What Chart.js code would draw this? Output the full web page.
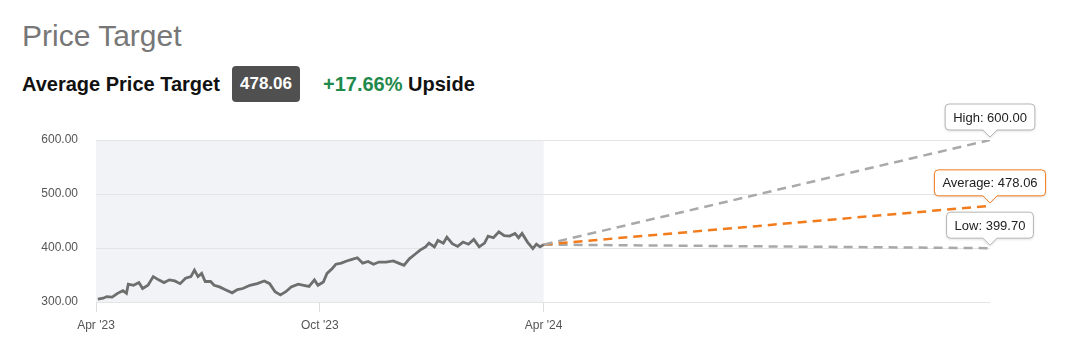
<!DOCTYPE html>
<html>
<head>
<meta charset="utf-8">
<script src="https://cdn.jsdelivr.net/npm/chart.js@4"></script>
<style>
  body { margin: 0; background: #fff; font-family: Arial, "Liberation Sans", sans-serif; }
  #wrap { position: relative; width: 1071px; height: 338px; overflow: hidden; }
  .title { position: absolute; left: 22px; top: 21px; font-size: 30px; line-height: 30px; color: #777; }
  .sub { position: absolute; left: 22px; top: 74px; font-size: 20px; line-height: 20px; font-weight: bold; color: #111; }
  .badge { position: absolute; left: 232px; top: 66px; width: 68px; height: 36px; background: #505050; border-radius: 4px;
           color: #fff; font-weight: bold; font-size: 17px; display: flex; align-items: center; justify-content: center; }
  .upside { position: absolute; left: 323px; top: 74px; font-size: 20px; line-height: 20px; font-weight: bold; color: #111; }
  .upside span { color: #1f8a4c; }
  #chart { position: absolute; left: 0; top: 95px; }
</style>
</head>
<body>
<div id="wrap">
  <div class="title">Price Target</div>
  <div class="sub">Average Price Target</div>
  <div class="badge">478.06</div>
  <div class="upside"><span>+17.66%</span> Upside</div>
  <canvas id="chart" width="1071" height="243"></canvas>
</div>
<script>
// days counted from 1 Apr 2023
let priceDays = [1.5, 5.9, 8.8, 13.2, 17.6, 22, 24.9, 26.4, 30.7, 35.1, 38.1, 42.5, 46.8, 51.2, 55.6, 60, 64.4, 68.8, 73.2, 77.6,
    80.5, 83.4, 86.4, 89.3, 93.7, 96.6, 101, 105.4, 111.3, 115.7, 120, 125.9, 131.8, 137.6, 142, 146.4, 150.8, 155.2, 159.6, 165.4,
    169.8, 174.2, 178.6, 181.5, 185.9, 188.9, 193.2, 196.2, 200.6, 205, 209.4, 213.7, 218.1, 222.5, 226.9, 231.3, 237.2, 243, 247.4, 251.8,
    256.2, 260.6, 265, 269.4, 272.3, 276.7, 279.6, 284, 286.9, 291.3, 295.7, 300.1, 304.5, 308.9, 313.3, 317.7, 320.6, 325, 329.4, 333.8,
    338.2, 342.6, 345.5, 348.4, 352.8, 357.2, 360.1, 363.1, 366]
let priceValues = [305.5, 307, 310, 309, 316, 321, 316, 333, 331, 336, 325, 331, 347, 341, 336, 341, 339, 334, 344, 347,
    359, 347, 353, 338, 338, 331, 328, 323, 317, 323, 325, 331, 334, 339, 334, 319, 313, 319, 328, 333,
    331, 329, 341, 331, 337, 353, 362, 370, 372, 376, 379, 382, 372, 375, 370, 374, 374, 376, 372, 368,
    380, 388, 396, 402, 409, 402, 414, 409, 420, 408, 403, 411, 407, 416, 402, 409, 422, 419, 430, 423,
    422, 427, 419, 427, 411, 399, 407, 402, 406.31]

let lastPrice = 406.31
let targetNames = ['High', 'Average', 'Low']
let targetValues = [600.00, 478.06, 399.70]
let targetColors = ['#a9a9a9', '#f27b1c', '#a9a9a9']
let targetDay = 731

let tickDays = [0, 183, 366]
let tickLabels = ["Apr '23", "Oct '23", "Apr '24"]

let datasets = [{
    data: priceDays.map((d, i) => ({x: d, y: priceValues[i]})),
    borderColor: '#6e6e6e',
    borderWidth: 2.8,
    pointRadius: 0,
    tension: 0
}]
for (let i = 0; i < targetValues.length; i++)
{
    datasets.push({
        data: [{x: 366, y: lastPrice}, {x: targetDay, y: targetValues[i]}],
        borderColor: targetColors[i],
        borderWidth: 2.5,
        borderDash: [9, 6],
        pointRadius: 0
    })
}

const shade = {
    id: 'shade',
    beforeDraw(chart) {
        const {ctx, chartArea, scales} = chart
        const x0 = scales.x.getPixelForValue(0)
        const x1 = scales.x.getPixelForValue(366)
        ctx.save()
        ctx.fillStyle = '#f2f3f7'
        ctx.fillRect(x0, chartArea.top, x1 - x0, chartArea.bottom - chartArea.top)
        ctx.restore()
    }
}

const callouts = {
    id: 'callouts',
    afterDatasetsDraw(chart) {
        const {ctx, scales} = chart
        ctx.save()
        ctx.font = '13px Arial, "Liberation Sans", sans-serif'
        for (let i = 0; i < targetValues.length; i++) {
            const px = scales.x.getPixelForValue(targetDay)
            const py = scales.y.getPixelForValue(targetValues[i])
            const text = targetNames[i] + ': ' + targetValues[i].toFixed(2)
            const w = ctx.measureText(text).width + 16
            const h = 26
            const bottom = py - 10
            const left = px - w / 2
            const top = bottom - h
            ctx.beginPath()
            ctx.moveTo(left + 4, top)
            ctx.lineTo(left + w - 4, top)
            ctx.quadraticCurveTo(left + w, top, left + w, top + 4)
            ctx.lineTo(left + w, bottom - 4)
            ctx.quadraticCurveTo(left + w, bottom, left + w - 4, bottom)
            ctx.lineTo(px + 7, bottom)
            ctx.lineTo(px, bottom + 7)
            ctx.lineTo(px - 7, bottom)
            ctx.lineTo(left + 4, bottom)
            ctx.quadraticCurveTo(left, bottom, left, bottom - 4)
            ctx.lineTo(left, top + 4)
            ctx.quadraticCurveTo(left, top, left + 4, top)
            ctx.closePath()
            ctx.shadowColor = 'rgba(0,0,0,0.15)'
            ctx.shadowBlur = 3
            ctx.shadowOffsetY = 1
            ctx.fillStyle = '#fff'
            ctx.fill()
            ctx.shadowColor = 'transparent'
            ctx.strokeStyle = i === 1 ? '#f27b1c' : '#b5b5b5'
            ctx.lineWidth = 1
            ctx.stroke()
            ctx.fillStyle = '#222'
            ctx.textAlign = 'center'
            ctx.textBaseline = 'middle'
            ctx.fillText(text, px, top + h / 2 + 1)
        }
        ctx.restore()
    }
}

const config = {
    type: 'line',
    data: {datasets: datasets},
    options: {
        responsive: false,
        animation: false,
        devicePixelRatio: 1,
        layout: {padding: {top: 45, right: 81, left: 0, bottom: 0}},
        plugins: {
            legend: {display: false},
            tooltip: {enabled: false}
        },
        scales: {
            x: {
                type: 'linear',
                min: 0,
                max: targetDay,
                afterBuildTicks: scale => { scale.ticks = tickDays.map(v => ({value: v})) },
                afterFit: scale => { scale.height = 36 },
                border: {display: false},
                grid: {drawOnChartArea: false, drawTicks: true, tickLength: 10, color: '#dcdcdc'},
                ticks: {
                    padding: 6,
                    maxRotation: 0,
                    color: '#555',
                    font: {family: 'Arial', size: 12},
                    callback: value => tickLabels[tickDays.indexOf(value)]
                }
            },
            y: {
                min: 300,
                max: 600,
                afterFit: scale => { scale.width = 96 },
                border: {display: false},
                grid: {color: '#e4e4e4', drawTicks: false},
                ticks: {
                    stepSize: 100,
                    padding: 18,
                    color: '#555',
                    font: {family: 'Arial', size: 12},
                    callback: value => value.toFixed(2)
                }
            }
        }
    },
    plugins: [shade, callouts]
}

new Chart(document.getElementById('chart'), config)
</script>
</body>
</html>
